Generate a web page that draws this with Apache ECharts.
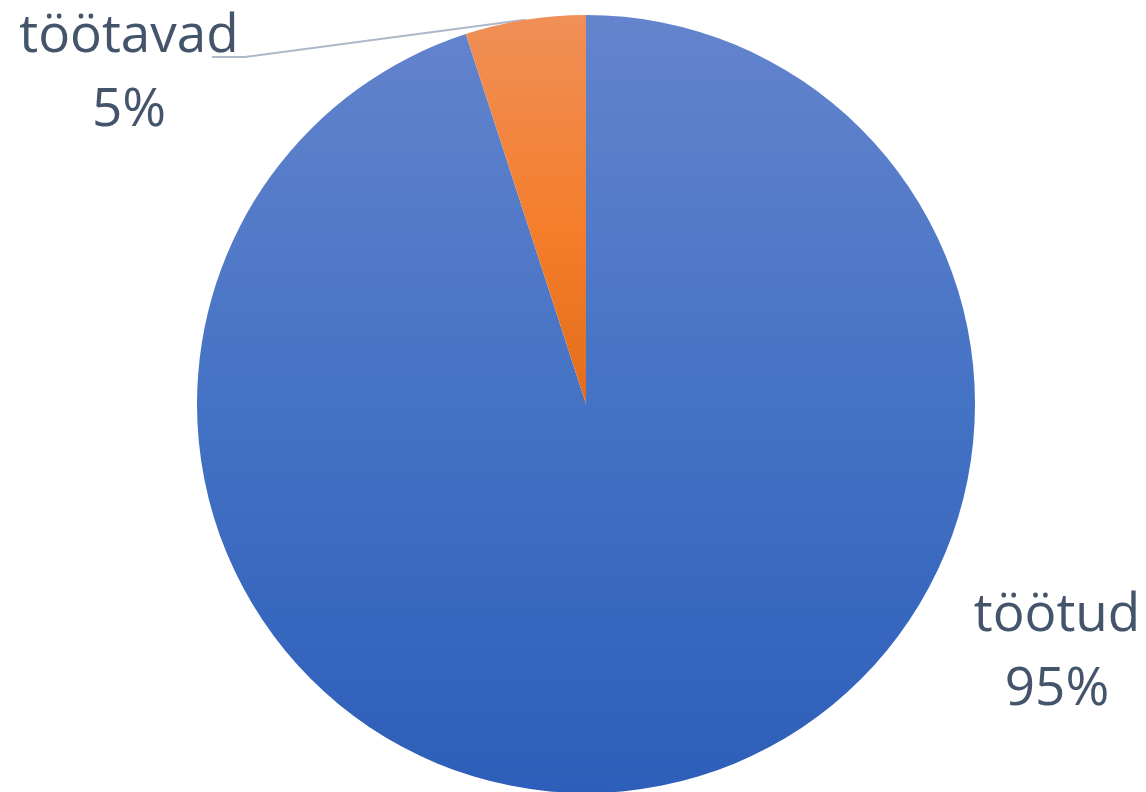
<!DOCTYPE html>
<html>
<head>
<meta charset="utf-8">
<style>
html,body{margin:0;padding:0;background:#fff;}
#chart{width:1146px;height:792px;}
</style>
<script src="https://cdn.jsdelivr.net/npm/echarts@6/dist/echarts.min.js"></script>
</head>
<body>
<div id="chart"></div>
<script>
const categories = ['töötud', 'töötavad'];
const values = [95, 5];
const percentLabels = ['95%', '5%'];

const blueGrad = new echarts.graphic.LinearGradient(0, 0, 0, 1, [
  {offset: 0, color: '#6484CD'},
  {offset: 0.5, color: '#4472C4'},
  {offset: 1, color: '#2D5EB9'}
]);
const orangeGrad = new echarts.graphic.LinearGradient(0, 0, 0, 1, [
  {offset: 0, color: '#F08F58'},
  {offset: 0.55, color: '#F47E2B'},
  {offset: 1, color: '#E46C1B'}
]);
const fills = [blueGrad, orangeGrad];
const labelPos = [[1057, 653], [129, 74]];

const chart = echarts.init(document.getElementById('chart'), null, {renderer: 'canvas'});
chart.setOption({
  animation: false,
  series: [{
    type: 'pie',
    center: [586, 404],
    radius: [0, 389],
    startAngle: 90,
    clockwise: true,
    data: categories.map((c, i) => ({
      name: c,
      value: values[i],
      itemStyle: {color: fills[i]},
      labelLine: {show: i === 1}
    })),
    itemStyle: {borderWidth: 0},
    label: {
      show: true,
      position: 'outside',
      formatter: p => p.name + '\n' + percentLabels[p.dataIndex],
      fontFamily: 'Open Sans',
      fontSize: 53,
      lineHeight: 74,
      color: '#44546A',
      align: 'center'
    },
    labelLine: {
      show: true,
      lineStyle: {color: '#ADB9CA', width: 2}
    },
    labelLayout: function (params) {
      const p = labelPos[params.dataIndex];
      const res = {x: p[0], y: p[1], align: 'center', verticalAlign: 'middle'};
      if (params.dataIndex === 1 && params.labelLinePoints) {
        res.labelLinePoints = [params.labelLinePoints[0], [245, 57], [212, 57]];
      }
      return res;
    }
  }]
});
</script>
</body>
</html>
